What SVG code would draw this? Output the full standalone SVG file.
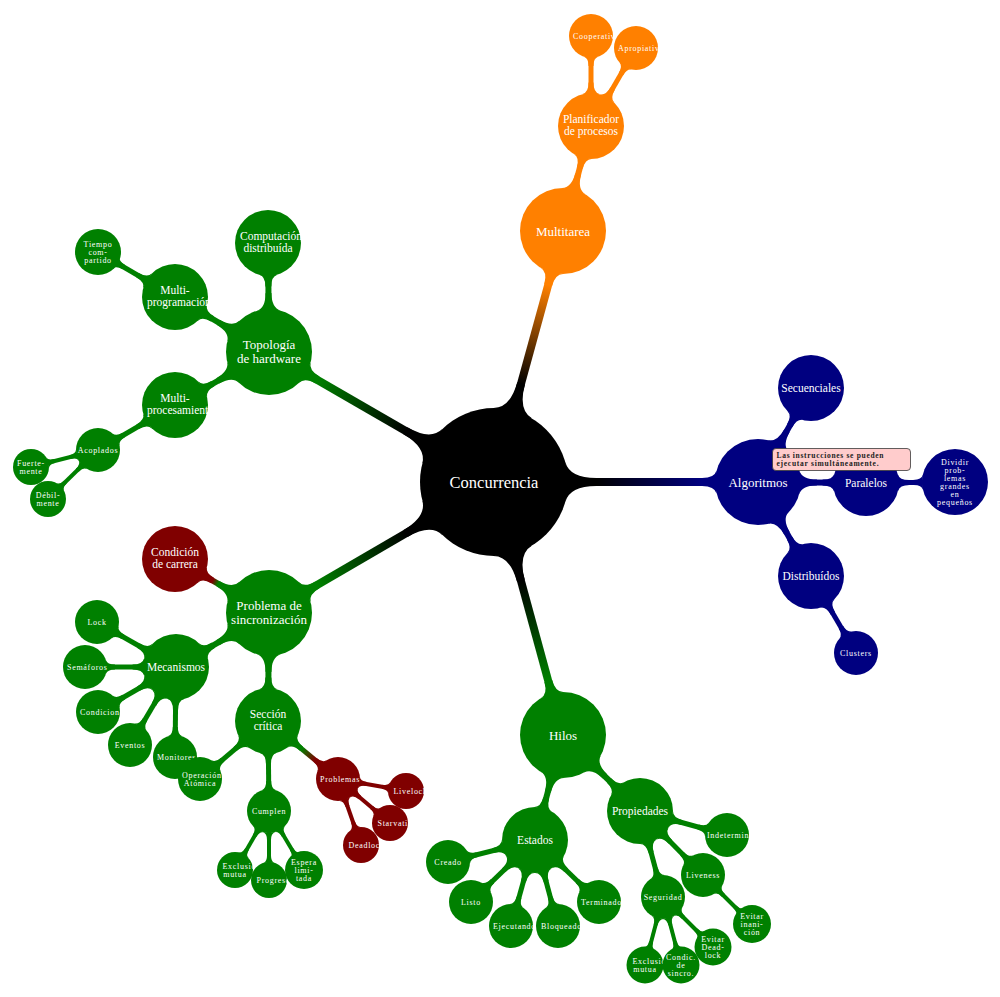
<svg xmlns="http://www.w3.org/2000/svg" xmlns:xlink="http://www.w3.org/1999/xlink" width="1000" height="997" viewBox="0 0 1000 997">
<style>
.nk{fill:#000}.no{fill:#ff8000}.nb{fill:#000080}.ng{fill:#008000}.nr{fill:#800000}
text{font-family:"Liberation Serif","Times New Roman",serif;fill:#fff;text-anchor:middle}
.t0{font-size:16.5px}.t1{font-size:13px}.t2{font-size:11.5px}.t3{font-size:8px;letter-spacing:0.7px}
text.L,tspan.L{text-anchor:start}
#connectors line{fill:none}
.c1{stroke-width:8;marker-start:url(#s1k)}
.c1o{marker-end:url(#e1o)}.c1b{marker-end:url(#e1b)}.c1g{marker-end:url(#e1g)}
.c2o{stroke:#ff8000;stroke-width:6;marker-start:url(#s2o);marker-end:url(#e2o)}
.c2b{stroke:#000080;stroke-width:6;marker-start:url(#s2b);marker-end:url(#e2b)}
.c2g{stroke:#008000;stroke-width:6;marker-start:url(#s2g);marker-end:url(#e2g)}
.c2gr{stroke-width:6;marker-start:url(#s2g);marker-end:url(#e2r)}
.c3o{stroke:#ff8000;stroke-width:5;marker-start:url(#s3o);marker-end:url(#e3o)}
.c3b{stroke:#000080;stroke-width:5;marker-start:url(#s3b);marker-end:url(#e3b)}
.c3bB{stroke:#000080;stroke-width:5;marker-start:url(#s3b);marker-end:url(#e3Bb)}
.c3g{stroke:#008000;stroke-width:5;marker-start:url(#s3g);marker-end:url(#e3g)}
.c3gr{stroke-width:5;marker-start:url(#s3g);marker-end:url(#e3r)}
.c4g{stroke:#008000;stroke-width:4;marker-start:url(#s4g);marker-end:url(#e4g)}
.c4r{stroke:#800000;stroke-width:4;marker-start:url(#s4r);marker-end:url(#e4r)}
.ann{fill:#ffcccc;stroke:#3a3a3a;stroke-width:0.8}
.at{font-size:7.5px;font-weight:bold;fill:#222;text-anchor:start}
</style>
<defs>
<path id="ps1" d="M71.25,-20 Q75.74,-4 102.3,-4 L102.3,4 Q75.74,4 71.25,20 Z"/>
<path id="pe1" d="M-41.44,-11.5 Q-43.52,-4 -55.97,-4 L-55.97,4 Q-43.52,4 -41.44,11.5 Z"/>
<path id="ps2" d="M41.29,-12 Q43.91,-3 58.9,-3 L58.9,3 Q43.91,3 41.29,12 Z"/>
<path id="pe2" d="M-31.75,-9 Q-33.45,-3 -43.43,-3 L-43.43,3 Q-33.45,3 -31.75,9 Z"/>
<path id="ps3" d="M31.89,-8.5 Q33.49,-2.5 43.43,-2.5 L43.43,2.5 Q33.49,2.5 31.89,8.5 Z"/>
<path id="pe3" d="M-20.86,-7 Q-22.37,-2.5 -29.97,-2.5 L-29.97,2.5 Q-22.37,2.5 -20.86,7 Z"/>
<path id="pe3B" d="M-32.14,-7.5 Q-33.31,-2.5 -41.52,-2.5 L-41.52,2.5 Q-33.31,2.5 -32.14,7.5 Z"/>
<path id="ps4" d="M21.17,-6 Q22.3,-2 28.95,-2 L28.95,2 Q22.3,2 21.17,6 Z"/>
<path id="pe4" d="M-17.14,-5.5 Q-18.26,-2 -24.14,-2 L-24.14,2 Q-18.26,2 -17.14,5.5 Z"/>
<marker id="s1k" markerUnits="userSpaceOnUse" orient="auto" markerWidth="1" markerHeight="1" style="overflow:visible"><use href="#ps1" class="nk"/></marker>
<marker id="e1o" markerUnits="userSpaceOnUse" orient="auto" markerWidth="1" markerHeight="1" style="overflow:visible"><use href="#pe1" class="no"/></marker>
<marker id="e1b" markerUnits="userSpaceOnUse" orient="auto" markerWidth="1" markerHeight="1" style="overflow:visible"><use href="#pe1" class="nb"/></marker>
<marker id="e1g" markerUnits="userSpaceOnUse" orient="auto" markerWidth="1" markerHeight="1" style="overflow:visible"><use href="#pe1" class="ng"/></marker>
<marker id="s2o" markerUnits="userSpaceOnUse" orient="auto" markerWidth="1" markerHeight="1" style="overflow:visible"><use href="#ps2" class="no"/></marker>
<marker id="s2b" markerUnits="userSpaceOnUse" orient="auto" markerWidth="1" markerHeight="1" style="overflow:visible"><use href="#ps2" class="nb"/></marker>
<marker id="s2g" markerUnits="userSpaceOnUse" orient="auto" markerWidth="1" markerHeight="1" style="overflow:visible"><use href="#ps2" class="ng"/></marker>
<marker id="e2o" markerUnits="userSpaceOnUse" orient="auto" markerWidth="1" markerHeight="1" style="overflow:visible"><use href="#pe2" class="no"/></marker>
<marker id="e2b" markerUnits="userSpaceOnUse" orient="auto" markerWidth="1" markerHeight="1" style="overflow:visible"><use href="#pe2" class="nb"/></marker>
<marker id="e2g" markerUnits="userSpaceOnUse" orient="auto" markerWidth="1" markerHeight="1" style="overflow:visible"><use href="#pe2" class="ng"/></marker>
<marker id="e2r" markerUnits="userSpaceOnUse" orient="auto" markerWidth="1" markerHeight="1" style="overflow:visible"><use href="#pe2" class="nr"/></marker>
<marker id="s3o" markerUnits="userSpaceOnUse" orient="auto" markerWidth="1" markerHeight="1" style="overflow:visible"><use href="#ps3" class="no"/></marker>
<marker id="s3b" markerUnits="userSpaceOnUse" orient="auto" markerWidth="1" markerHeight="1" style="overflow:visible"><use href="#ps3" class="nb"/></marker>
<marker id="s3g" markerUnits="userSpaceOnUse" orient="auto" markerWidth="1" markerHeight="1" style="overflow:visible"><use href="#ps3" class="ng"/></marker>
<marker id="e3o" markerUnits="userSpaceOnUse" orient="auto" markerWidth="1" markerHeight="1" style="overflow:visible"><use href="#pe3" class="no"/></marker>
<marker id="e3b" markerUnits="userSpaceOnUse" orient="auto" markerWidth="1" markerHeight="1" style="overflow:visible"><use href="#pe3" class="nb"/></marker>
<marker id="e3Bb" markerUnits="userSpaceOnUse" orient="auto" markerWidth="1" markerHeight="1" style="overflow:visible"><use href="#pe3B" class="nb"/></marker>
<marker id="e3g" markerUnits="userSpaceOnUse" orient="auto" markerWidth="1" markerHeight="1" style="overflow:visible"><use href="#pe3" class="ng"/></marker>
<marker id="e3r" markerUnits="userSpaceOnUse" orient="auto" markerWidth="1" markerHeight="1" style="overflow:visible"><use href="#pe3" class="nr"/></marker>
<marker id="s4g" markerUnits="userSpaceOnUse" orient="auto" markerWidth="1" markerHeight="1" style="overflow:visible"><use href="#ps4" class="ng"/></marker>
<marker id="s4r" markerUnits="userSpaceOnUse" orient="auto" markerWidth="1" markerHeight="1" style="overflow:visible"><use href="#ps4" class="nr"/></marker>
<marker id="e4g" markerUnits="userSpaceOnUse" orient="auto" markerWidth="1" markerHeight="1" style="overflow:visible"><use href="#pe4" class="ng"/></marker>
<marker id="e4r" markerUnits="userSpaceOnUse" orient="auto" markerWidth="1" markerHeight="1" style="overflow:visible"><use href="#pe4" class="nr"/></marker>
<linearGradient id="gO" gradientUnits="userSpaceOnUse" x1="494" y1="482" x2="563" y2="231"><stop offset="0.39" stop-color="#000"/><stop offset="0.785" stop-color="#ff8000"/></linearGradient>
<linearGradient id="gB" gradientUnits="userSpaceOnUse" x1="494" y1="482" x2="758" y2="482"><stop offset="0.39" stop-color="#000"/><stop offset="0.785" stop-color="#000080"/></linearGradient>
<linearGradient id="gG1" gradientUnits="userSpaceOnUse" x1="494" y1="482" x2="563" y2="735"><stop offset="0.39" stop-color="#000"/><stop offset="0.785" stop-color="#008000"/></linearGradient>
<linearGradient id="gG2" gradientUnits="userSpaceOnUse" x1="494" y1="482" x2="269" y2="352"><stop offset="0.39" stop-color="#000"/><stop offset="0.785" stop-color="#008000"/></linearGradient>
<linearGradient id="gG3" gradientUnits="userSpaceOnUse" x1="494" y1="482" x2="269" y2="613"><stop offset="0.39" stop-color="#000"/><stop offset="0.785" stop-color="#008000"/></linearGradient>
<linearGradient id="gR1" gradientUnits="userSpaceOnUse" x1="269" y1="613" x2="175" y2="559"><stop offset="0.54" stop-color="#008000"/><stop offset="0.6" stop-color="#800000"/></linearGradient>
<linearGradient id="gR2" gradientUnits="userSpaceOnUse" x1="268" y1="721" x2="338" y2="779"><stop offset="0.48" stop-color="#008000"/><stop offset="0.67" stop-color="#800000"/></linearGradient>
</defs>

<g id="connectors">
<line class="c1 c1o" stroke="url(#gO)" x1="494" y1="482" x2="563" y2="231"/>
<line class="c1 c1b" stroke="url(#gB)" x1="494" y1="482" x2="758" y2="482"/>
<line class="c1 c1g" stroke="url(#gG1)" x1="494" y1="482" x2="563" y2="735"/>
<line class="c1 c1g" stroke="url(#gG2)" x1="494" y1="482" x2="269" y2="352"/>
<line class="c1 c1g" stroke="url(#gG3)" x1="494" y1="482" x2="269" y2="613"/>
<line class="c2o" x1="563" y1="231" x2="591" y2="126"/>
<line class="c2b" x1="758" y1="482" x2="811" y2="388"/>
<line class="c2b" x1="758" y1="482" x2="866" y2="483"/>
<line class="c2b" x1="758" y1="482" x2="811" y2="576"/>
<line class="c2g" x1="563" y1="735" x2="535" y2="840"/>
<line class="c2g" x1="563" y1="735" x2="640" y2="811"/>
<line class="c2g" x1="269" y1="352" x2="268" y2="243"/>
<line class="c2g" x1="269" y1="352" x2="175" y2="297"/>
<line class="c2g" x1="269" y1="352" x2="175" y2="405"/>
<line class="c2gr" stroke="url(#gR1)" x1="269" y1="613" x2="175" y2="559"/>
<line class="c2g" x1="269" y1="613" x2="176" y2="667"/>
<line class="c2g" x1="269" y1="613" x2="268" y2="721"/>
<line class="c3o" x1="591" y1="126" x2="591" y2="36"/>
<line class="c3o" x1="591" y1="126" x2="636" y2="48"/>
<line class="c3bB" x1="866" y1="483" x2="955" y2="482"/>
<line class="c3b" x1="811" y1="576" x2="856" y2="653"/>
<line class="c3g" x1="535" y1="840" x2="448" y2="862"/>
<line class="c3g" x1="535" y1="840" x2="471" y2="902"/>
<line class="c3g" x1="535" y1="840" x2="511" y2="926"/>
<line class="c3g" x1="535" y1="840" x2="558" y2="926"/>
<line class="c3g" x1="535" y1="840" x2="599" y2="902"/>
<line class="c3g" x1="640" y1="811" x2="727" y2="835"/>
<line class="c3g" x1="640" y1="811" x2="703" y2="875"/>
<line class="c3g" x1="640" y1="811" x2="663" y2="897"/>
<line class="c3g" x1="175" y1="297" x2="98" y2="252"/>
<line class="c3g" x1="175" y1="405" x2="98" y2="450"/>
<line class="c3g" x1="176" y1="667" x2="97" y2="622"/>
<line class="c3g" x1="176" y1="667" x2="85" y2="667"/>
<line class="c3g" x1="176" y1="667" x2="98" y2="712"/>
<line class="c3g" x1="176" y1="667" x2="130" y2="745"/>
<line class="c3g" x1="176" y1="667" x2="175" y2="757"/>
<line class="c3g" x1="268" y1="721" x2="200" y2="779"/>
<line class="c3g" x1="268" y1="721" x2="269" y2="811"/>
<line class="c3gr" stroke="url(#gR2)" x1="268" y1="721" x2="338" y2="779"/>
<line class="c4g" x1="703" y1="875" x2="752" y2="924"/>
<line class="c4g" x1="663" y1="897" x2="645" y2="965"/>
<line class="c4g" x1="663" y1="897" x2="681" y2="965"/>
<line class="c4g" x1="663" y1="897" x2="713" y2="947"/>
<line class="c4g" x1="98" y1="450" x2="31" y2="467"/>
<line class="c4g" x1="98" y1="450" x2="48" y2="499"/>
<line class="c4g" x1="269" y1="811" x2="235" y2="870"/>
<line class="c4g" x1="269" y1="811" x2="269" y2="880"/>
<line class="c4g" x1="269" y1="811" x2="304" y2="870"/>
<line class="c4r" x1="338" y1="779" x2="406" y2="791"/>
<line class="c4r" x1="338" y1="779" x2="390" y2="823"/>
<line class="c4r" x1="338" y1="779" x2="361" y2="845"/>
</g>

<g id="n-concurrencia"><circle class="nk" cx="494" cy="482" r="74"/><text class="t0" x="494" y="488">Concurrencia</text></g>

<g id="n-multitarea"><circle class="no" cx="563" cy="231" r="43"/><text class="t1" x="563" y="235.5">Multitarea</text></g>
<g id="n-planificador"><circle class="no" cx="591" cy="126" r="33"/><text class="t2"><tspan x="591" y="122.7">Planificador</tspan><tspan x="591" y="135.2">de procesos</tspan></text></g>
<g id="n-cooperativo"><circle class="no" cx="591" cy="36" r="22"/><text class="t3 L" x="573" y="38.8">Cooperativo</text></g>
<g id="n-apropiativo"><circle class="no" cx="636" cy="48" r="22"/><text class="t3 L" x="618" y="50.8">Apropiativo</text></g>

<g id="n-algoritmos"><circle class="nb" cx="758" cy="482" r="43"/><text class="t1" x="758" y="486.5">Algoritmos</text></g>
<g id="n-secuenciales"><circle class="nb" cx="811" cy="388" r="33"/><text class="t2" x="811" y="392">Secuenciales</text></g>
<g id="n-paralelos"><circle class="nb" cx="866" cy="483" r="33"/><text class="t2" x="866" y="487">Paralelos</text></g>
<g id="n-dividir"><circle class="nb" cx="955" cy="482" r="33"/><text class="t3"><tspan x="955" y="464.8">Dividir</tspan><tspan x="955" y="472.8">prob-</tspan><tspan x="955" y="480.8">lemas</tspan><tspan x="955" y="488.8">grandes</tspan><tspan x="955" y="496.8">en</tspan><tspan x="955" y="504.8">pequeños</tspan></text></g>
<g id="n-distribuidos"><circle class="nb" cx="811" cy="576" r="33"/><text class="t2" x="811" y="580">Distribuídos</text></g>
<g id="n-clusters"><circle class="nb" cx="856" cy="653" r="22"/><text class="t3" x="856" y="655.8">Clusters</text></g>

<g id="n-hilos"><circle class="ng" cx="563" cy="735" r="43"/><text class="t1" x="563" y="739.5">Hilos</text></g>
<g id="n-estados"><circle class="ng" cx="535" cy="840" r="33"/><text class="t2" x="535" y="844">Estados</text></g>
<g id="n-creado"><circle class="ng" cx="448" cy="862" r="22"/><text class="t3" x="448" y="864.8">Creado</text></g>
<g id="n-listo"><circle class="ng" cx="471" cy="902" r="22"/><text class="t3" x="471" y="904.8">Listo</text></g>
<g id="n-ejecutando"><circle class="ng" cx="511" cy="926" r="22"/><text class="t3 L" x="493" y="928.8">Ejecutando</text></g>
<g id="n-bloqueado"><circle class="ng" cx="558" cy="926" r="22"/><text class="t3 L" x="541" y="928.8">Bloqueado</text></g>
<g id="n-terminado"><circle class="ng" cx="599" cy="902" r="22"/><text class="t3 L" x="581" y="904.8">Terminado</text></g>
<g id="n-propiedades"><circle class="ng" cx="640" cy="811" r="33"/><text class="t2" x="640" y="815">Propiedades</text></g>
<g id="n-indeterminismo"><circle class="ng" cx="727" cy="835" r="22"/><text class="t3 L" x="707" y="837.8">Indeterminismo</text></g>
<g id="n-liveness"><circle class="ng" cx="703" cy="875" r="22"/><text class="t3" x="703" y="877.8">Liveness</text></g>
<g id="n-evitar-inanicion"><circle class="ng" cx="752" cy="924" r="19"/><text class="t3"><tspan x="752" y="918.8">Evitar</tspan><tspan x="752" y="926.8">inani-</tspan><tspan x="752" y="934.8">ción</tspan></text></g>
<g id="n-seguridad"><circle class="ng" cx="663" cy="897" r="22"/><text class="t3" x="663" y="899.8">Seguridad</text></g>
<g id="n-exclusion-mutua-2"><circle class="ng" cx="645" cy="965" r="18.5"/><text class="t3"><tspan class="L" x="632.5" y="963.8">Exclusión</tspan><tspan x="645" y="971.8">mutua</tspan></text></g>
<g id="n-condic-sincro"><circle class="ng" cx="681" cy="965" r="18.5"/><text class="t3"><tspan x="681" y="959.8">Condic.</tspan><tspan x="681" y="967.8">de</tspan><tspan x="681" y="975.8">sincro.</tspan></text></g>
<g id="n-evitar-deadlock"><circle class="ng" cx="713" cy="947" r="18.5"/><text class="t3"><tspan x="713" y="941.8">Evitar</tspan><tspan x="713" y="949.8">Dead-</tspan><tspan x="713" y="957.8">lock</tspan></text></g>

<g id="n-topologia"><circle class="ng" cx="269" cy="352" r="43"/><text class="t1"><tspan x="269" y="348.5">Topología</tspan><tspan x="269" y="362.5">de hardware</tspan></text></g>
<g id="n-computacion"><circle class="ng" cx="268" cy="243" r="33"/><text class="t2"><tspan class="L" x="240" y="239.7">Computación</tspan><tspan x="268" y="252.2">distribuída</tspan></text></g>
<g id="n-multiprogramacion"><circle class="ng" cx="175" cy="297" r="33"/><text class="t2"><tspan x="175" y="293.7">Multi-</tspan><tspan class="L" x="147" y="306.2">programación</tspan></text></g>
<g id="n-tiempo-compartido"><circle class="ng" cx="98" cy="252" r="23"/><text class="t3"><tspan x="98" y="246.8">Tiempo</tspan><tspan x="98" y="254.8">com-</tspan><tspan x="98" y="262.8">partido</tspan></text></g>
<g id="n-multiprocesamiento"><circle class="ng" cx="175" cy="405" r="33"/><text class="t2"><tspan x="175" y="401.7">Multi-</tspan><tspan class="L" x="147" y="414.2">procesamiento</tspan></text></g>
<g id="n-acoplados"><circle class="ng" cx="98" cy="450" r="22"/><text class="t3" x="98" y="452.8">Acoplados</text></g>
<g id="n-fuertemente"><circle class="ng" cx="31" cy="467" r="18"/><text class="t3"><tspan x="31" y="465.8">Fuerte-</tspan><tspan x="31" y="473.8">mente</tspan></text></g>
<g id="n-debilmente"><circle class="ng" cx="48" cy="499" r="18"/><text class="t3"><tspan x="48" y="497.8">Débil-</tspan><tspan x="48" y="505.8">mente</tspan></text></g>

<g id="n-problema"><circle class="ng" cx="269" cy="613" r="43"/><text class="t1"><tspan x="269" y="609.5">Problema de</tspan><tspan x="269" y="623.5">sincronización</tspan></text></g>
<g id="n-condicion-carrera"><circle class="nr" cx="175" cy="559" r="33"/><text class="t2"><tspan x="175" y="555.7">Condición</tspan><tspan x="175" y="568.2">de carrera</tspan></text></g>
<g id="n-mecanismos"><circle class="ng" cx="176" cy="667" r="33"/><text class="t2" x="176" y="671">Mecanismos</text></g>
<g id="n-lock"><circle class="ng" cx="97" cy="622" r="22"/><text class="t3" x="97" y="624.8">Lock</text></g>
<g id="n-semaforos"><circle class="ng" cx="85" cy="667" r="22"/><text class="t3 L" x="67" y="669.8">Semáforos</text></g>
<g id="n-condiciones"><circle class="ng" cx="98" cy="712" r="22"/><text class="t3 L" x="80" y="714.8">Condiciones</text></g>
<g id="n-eventos"><circle class="ng" cx="130" cy="745" r="22"/><text class="t3" x="130" y="747.8">Eventos</text></g>
<g id="n-monitores"><circle class="ng" cx="175" cy="757" r="22"/><text class="t3 L" x="157" y="759.8">Monitores</text></g>
<g id="n-seccion"><circle class="ng" cx="268" cy="721" r="33"/><text class="t2"><tspan x="268" y="717.7">Sección</tspan><tspan x="268" y="730.2">crítica</tspan></text></g>
<g id="n-operacion"><circle class="ng" cx="200" cy="779" r="22"/><text class="t3"><tspan class="L" x="182" y="777.8">Operación</tspan><tspan x="200" y="785.8">Atómica</tspan></text></g>
<g id="n-cumplen"><circle class="ng" cx="269" cy="811" r="22"/><text class="t3" x="269" y="813.8">Cumplen</text></g>
<g id="n-exclusion-mutua"><circle class="ng" cx="235" cy="870" r="18"/><text class="t3"><tspan class="L" x="222.5" y="868.8">Exclusión</tspan><tspan x="235" y="876.8">mutua</tspan></text></g>
<g id="n-progreso"><circle class="ng" cx="269" cy="880" r="18"/><text class="t3 L" x="256.5" y="882.8">Progreso</text></g>
<g id="n-espera"><circle class="ng" cx="304" cy="870" r="19"/><text class="t3"><tspan x="304" y="864.8">Espera</tspan><tspan x="304" y="872.8">limi-</tspan><tspan x="304" y="880.8">tada</tspan></text></g>
<g id="n-problemas"><circle class="nr" cx="338" cy="779" r="22"/><text class="t3 L" x="320" y="781.8">Problemas</text></g>
<g id="n-livelock"><circle class="nr" cx="406" cy="791" r="18"/><text class="t3 L" x="393.5" y="793.8">Livelock</text></g>
<g id="n-starvation"><circle class="nr" cx="390" cy="823" r="18"/><text class="t3 L" x="377.5" y="825.8">Starvation</text></g>
<g id="n-deadlock"><circle class="nr" cx="361" cy="845" r="18"/><text class="t3 L" x="348.5" y="847.8">Deadlock</text></g>

<g id="n-annotation"><rect class="ann" x="772.5" y="448.5" width="138" height="22" rx="3.5"/><text class="at" x="776.5" y="457.5" textLength="107" lengthAdjust="spacing">Las instrucciones se pueden</text><text class="at" x="776.5" y="466" textLength="102" lengthAdjust="spacing">ejecutar simultáneamente.</text></g>
</svg>
